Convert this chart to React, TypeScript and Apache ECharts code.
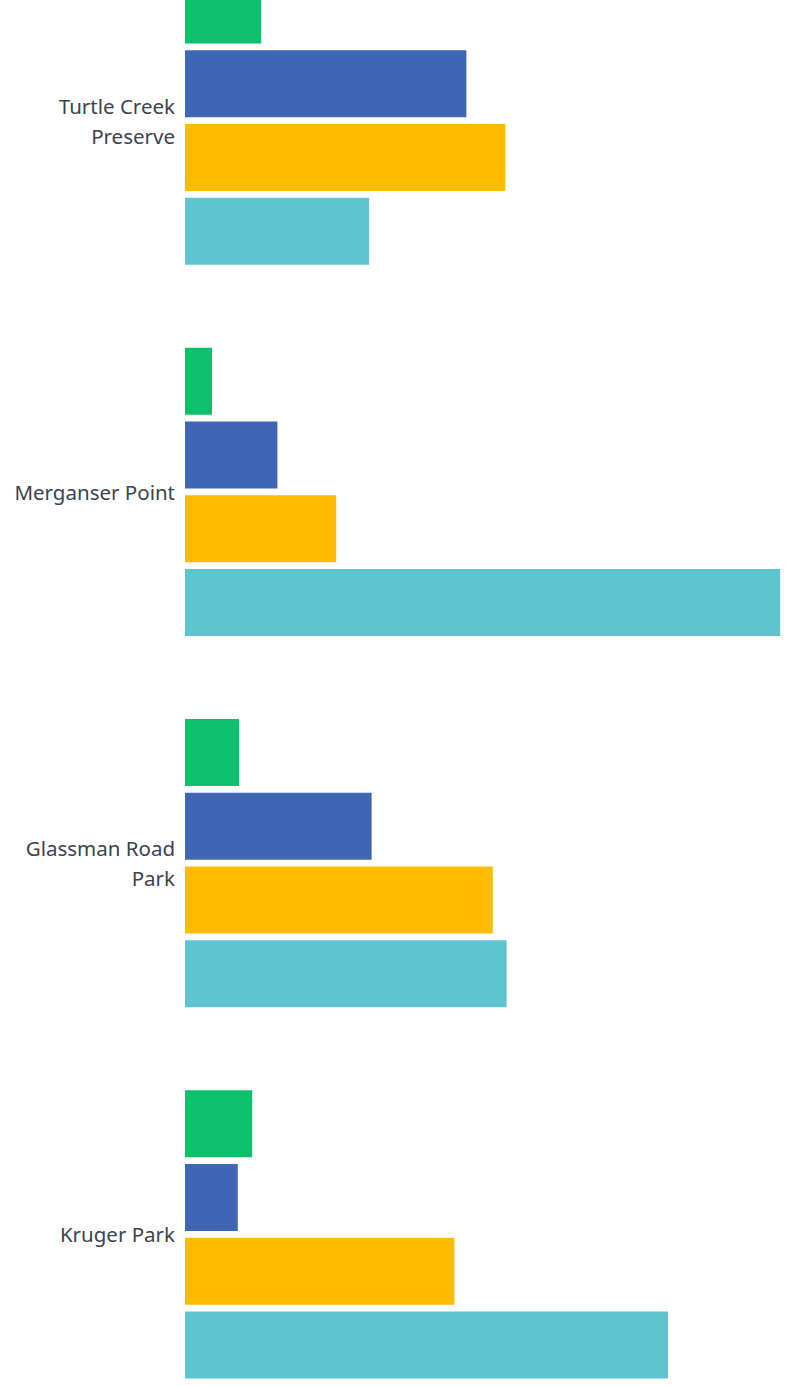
import React, { useEffect, useRef } from "react";
import * as echarts from "echarts";

const categories = ["Turtle Creek Preserve", "Merganser Point", "Glassman Road Park", "Kruger Park"];
const tickLabels = ["Turtle Creek\nPreserve", "Merganser Point", "Glassman Road\nPark", "Kruger Park"];
const seriesA = [12.7, 4.5, 9.0, 11.2];
const seriesB = [46.9, 15.4, 31.1, 8.8];
const seriesC = [53.4, 25.2, 51.3, 44.9];
const seriesD = [30.7, 99.2, 53.6, 80.5];
const colors = ["#0cc06c", "#3f66b4", "#fdbc00", "#5ec4cf"];

export default function App() {
  const ref = useRef<HTMLDivElement>(null);
  useEffect(() => {
    if (!ref.current) return;
    const chart = echarts.init(ref.current, null, { renderer: "svg" });
    const mk = (data: number[], i: number) => ({
      type: "bar",
      data,
      barWidth: 67,
      barGap: "10%",
      itemStyle: { color: colors[i] },
    });
    chart.setOption({
      animation: false,
      grid: { left: 185, right: 0, top: 0, bottom: 0, containLabel: false },
      xAxis: { type: "value", min: 0, max: 100, show: false, splitLine: { show: false } },
      yAxis: {
        type: "category",
        data: categories,
        inverse: true,
        axisLine: { show: false },
        axisTick: { show: false },
        axisLabel: {
          color: "#3a4350",
          fontFamily: "Noto Sans",
          fontSize: 20.5,
          lineHeight: 30,
          margin: 10,
          align: "right",
          formatter: (_v: string, i: number) => tickLabels[i],
        },
      },
      series: [mk(seriesA, 0), mk(seriesB, 1), mk(seriesC, 2), mk(seriesD, 3)],
    });
    return () => chart.dispose();
  }, []);
  return (
    <div
      ref={ref}
      style={{ position: "fixed", left: 0, top: -65, width: 785, height: 1485, background: "#fff" }}
    />
  );
}
